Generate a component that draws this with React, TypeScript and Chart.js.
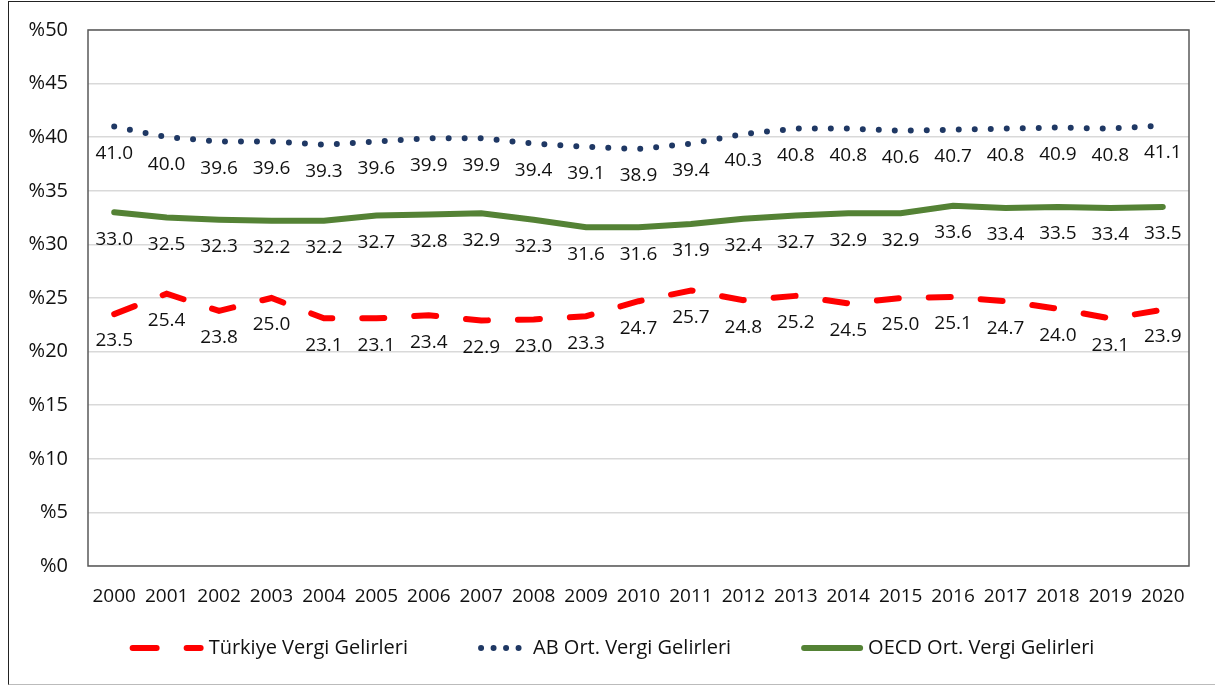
import React, { useEffect, useRef } from "react";
import { Chart, registerables } from "chart.js";

Chart.register(...registerables);

const years = ["2000","2001","2002","2003","2004","2005","2006","2007","2008","2009","2010","2011","2012","2013","2014","2015","2016","2017","2018","2019","2020"];
const turkiye = [23.5,25.4,23.8,25.0,23.1,23.1,23.4,22.9,23.0,23.3,24.7,25.7,24.8,25.2,24.5,25.0,25.1,24.7,24.0,23.1,23.9];
const ab = [41.0,40.0,39.6,39.6,39.3,39.6,39.9,39.9,39.4,39.1,38.9,39.4,40.3,40.8,40.8,40.6,40.7,40.8,40.9,40.8,41.1];
const oecd = [33.0,32.5,32.3,32.2,32.2,32.7,32.8,32.9,32.3,31.6,31.6,31.9,32.4,32.7,32.9,32.9,33.6,33.4,33.5,33.4,33.5];
const seriesNames = ["Türkiye Vergi Gelirleri", "AB Ort. Vergi Gelirleri", "OECD Ort. Vergi Gelirleri"];

const FONT = "'Open Sans', 'Noto Sans', sans-serif";
const FS = 19;

const legendSwatch = [
  { len: 74, dash: [24, 30] },
  { len: 50, dash: [0, 12.5] },
  { len: 62, dash: [] as number[] },
];

const labelPlugin = {
  id: "pointLabels",
  afterDatasetsDraw(chart: any) {
    const ctx = chart.ctx;
    ctx.save();
    ctx.font = `${FS}px ${FONT}`;
    ctx.fillStyle = "#111";
    ctx.textAlign = "center";
    ctx.textBaseline = "middle";
    chart.data.datasets.forEach((ds: any, i: number) => {
      const meta = chart.getDatasetMeta(i);
      meta.data.forEach((pt: any, j: number) => {
        ctx.fillText(ds.data[j].toFixed(1), pt.x, pt.y + 27);
      });
    });
    ctx.restore();
  },
};

const borderPlugin = {
  id: "plotBorder",
  afterDraw(chart: any) {
    const { ctx, chartArea: a } = chart;
    ctx.save();
    ctx.strokeStyle = "#595959";
    ctx.lineWidth = 1.5;
    ctx.strokeRect(a.left, a.top, a.right - a.left, a.bottom - a.top);
    ctx.restore();
  },
};

const legendPlugin = {
  id: "customLegend",
  afterDraw(chart: any) {
    const { ctx, chartArea: a } = chart;
    ctx.save();
    ctx.font = `20px ${FONT}`;
    const gapText = 5;
    const gapItem = 70;
    const widths = chart.data.datasets.map((ds: any, i: number) =>
      legendSwatch[i].len + gapText + ctx.measureText(ds.label).width
    );
    const total = widths.reduce((s: number, w: number) => s + w, 0) + gapItem * (widths.length - 1);
    let x = chart.width / 2 - total / 2;
    const y = a.bottom + 82;
    chart.data.datasets.forEach((ds: any, i: number) => {
      const sw = legendSwatch[i];
      ctx.beginPath();
      ctx.strokeStyle = ds.borderColor;
      ctx.lineWidth = 6;
      ctx.lineCap = "round";
      ctx.setLineDash(sw.dash);
      ctx.moveTo(x + 3, y);
      ctx.lineTo(x + sw.len - 3, y);
      ctx.stroke();
      ctx.setLineDash([]);
      ctx.fillStyle = "#111";
      ctx.textAlign = "left";
      ctx.textBaseline = "middle";
      ctx.fillText(ds.label, x + sw.len + gapText, y);
      x += widths[i] + gapItem;
    });
    ctx.restore();
  },
};

export default function App() {
  const ref = useRef<HTMLCanvasElement>(null);
  useEffect(() => {
    const chart = new Chart(ref.current!, {
      type: "line",
      data: {
        labels: years,
        datasets: [
          {
            label: seriesNames[0],
            data: turkiye,
            borderColor: "#FF0000",
            backgroundColor: "#FF0000",
            borderWidth: 6,
            borderDash: [22, 30],
            borderCapStyle: "round",
            pointRadius: 0,
            tension: 0,
          },
          {
            label: seriesNames[1],
            data: ab,
            borderColor: "#1F3864",
            backgroundColor: "#1F3864",
            borderWidth: 6,
            borderDash: [0, 16],
            borderCapStyle: "round",
            pointRadius: 0,
            tension: 0,
          },
          {
            label: seriesNames[2],
            data: oecd,
            borderColor: "#548235",
            backgroundColor: "#548235",
            borderWidth: 6,
            borderCapStyle: "round",
            pointRadius: 0,
            tension: 0,
          },
        ],
      },
      options: {
        animation: false,
        responsive: true,
        maintainAspectRatio: false,
        layout: { padding: { top: 8, right: 26, left: 0, bottom: 0 } },
        plugins: {
          tooltip: { enabled: false },
          legend: { display: false },
        },
        scales: {
          x: {
            offset: true,
            grid: { display: false, drawTicks: false },
            border: { display: false },
            ticks: { color: "#111", padding: 19, font: { family: FONT, size: FS }, maxRotation: 0, autoSkip: false },
            afterFit: (s: any) => { s.height = 118; },
          },
          y: {
            min: 0,
            max: 50,
            grid: { color: "#d9d9d9", lineWidth: 1.5, drawTicks: false },
            border: { display: false },
            ticks: {
              stepSize: 5,
              padding: 20,
              color: "#111",
              font: { family: FONT, size: 20 },
              callback: (v: any) => "%" + v,
            },
            afterFit: (s: any) => { s.width = 79; },
          },
        },
      },
      plugins: [labelPlugin, borderPlugin, legendPlugin],
    });
    return () => chart.destroy();
  }, []);
  return (
    <div
      style={{
        position: "absolute",
        left: 8,
        top: 1,
        width: 1207,
        height: 684,
        borderLeft: "1.5px solid #222",
        borderTop: "1.5px solid #222",
        borderBottom: "1.5px solid #bbb",
        boxSizing: "border-box",
        background: "#fff",
        overflow: "hidden",
      }}
    >
      <div style={{ position: "absolute", top: -4, left: 0, right: 0, bottom: 0 }}>
        <canvas ref={ref} />
      </div>
    </div>
  );
}
